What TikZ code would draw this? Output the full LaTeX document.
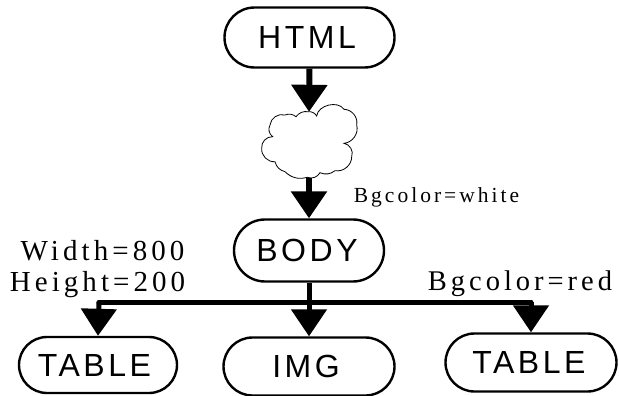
\documentclass[tikz,border=0pt]{standalone}
\usepackage{fontspec}
\setmainfont{Liberation Serif}
\newfontfamily\boxfont[LetterSpace=11]{Liberation Sans}
\newfontfamily\lblfont[LetterSpace=14]{Liberation Serif}
\usetikzlibrary{shapes.misc,arrows.meta}
\tikzset{x=1pt,y=-1pt,
 pill/.style={rounded rectangle,draw=black,line width=2.4pt,minimum width=#1,inner sep=0pt,font=\boxfont\fontsize{32}{33}\selectfont,text=black},
 flow/.style={draw=black,line width=6pt,-{Triangle[length=27pt,width=35pt]}},
 bus/.style={draw=black,line width=5pt,line cap=round},
 lbl/.style={inner sep=0pt,font=\lblfont\fontsize{29}{30}\selectfont,text=black,anchor=center}}
\begin{document}
\begin{tikzpicture}
\useasboundingbox (0,0) rectangle (619,396);
\node[pill=170pt,minimum height=60pt] (html) at (309.5,37.5) {HTML\kern5pt};
\node[pill=150pt,minimum height=62pt] (body) at (309,250.5) {BODY\kern4pt};
\node[pill=158pt,minimum height=56pt] (t1) at (98,365) {TABLE\kern7pt};
\node[pill=171pt,minimum height=58pt] (img) at (309,366.5) {IMG\kern6pt};
\node[pill=171pt,minimum height=58pt] (t3) at (531,362.5) {TABLE\kern4pt};
\node[inner sep=0pt,minimum width=130pt,minimum height=66pt] (cloud) at (309,145) {};
\draw[black,line width=0.8pt,fill=white]
 (316.7,116) to[bend left=70] (344,109.3) to[bend left=50] (356.7,125) to[bend left=50] (344,143.3)
 to[bend left=50] (351.7,156.7) to[bend left=50] (335,170.7) to[bend left=30] (320,172.7)
 to[bend left=40] (307.3,177.3) to[bend left=30] (285,171.7) to[bend left=30] (275,161.7)
 to[bend left=50] (261.7,148.3) to[bend left=50] (272.7,136.7) to[bend left=40] (270,125)
 to[bend left=50] (285,115) to[bend left=30] (296,116.7) to[bend left=30] (308.3,111.7) to[bend left=30] (316.7,116) -- cycle;
\draw[flow] (html.south) -- (cloud.north);
\draw[flow] (cloud.south) -- (body.north);
\coordinate (busl) at (99,302);
\coordinate (busr) at (531,302);
\draw[bus] (busl) -- (busr);
\draw[flow,line width=5pt] (body.south) -- (img.north);
\draw[flow,line width=5pt] (busl) -- (t1.north);
\draw[flow,line width=5pt] (busr) -- (t3.north);
\node[lbl,font=\lblfont\fontsize{21.5}{23}\selectfont] (a) at (436.5,197) {Bgcolor=white};
\node[lbl] (b) at (102.5,251) {W\kern3pt idth=800};
\node[lbl] (c) at (97.5,285) {Height=200};
\node[lbl,font=\lblfont\fontsize{28.5}{30}\selectfont] (d) at (520,284) {Bgcolor=red};
\end{tikzpicture}
\end{document}
